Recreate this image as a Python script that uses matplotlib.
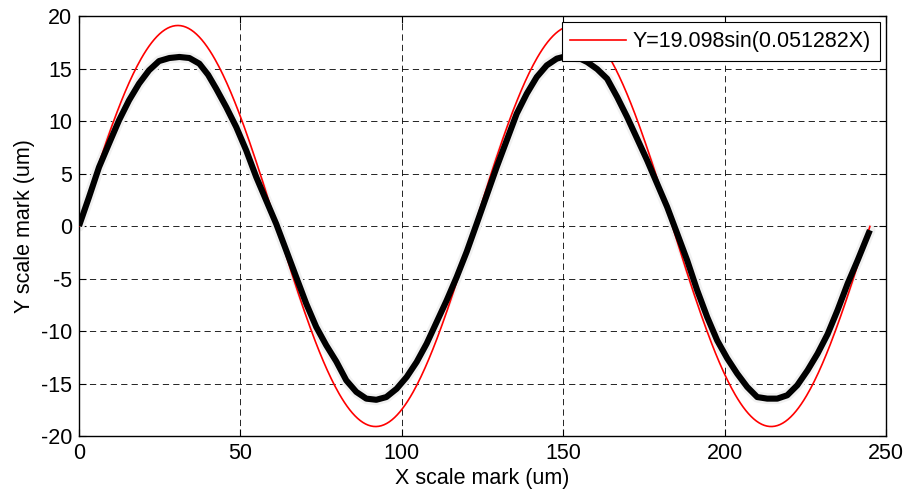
import numpy as np
import matplotlib
matplotlib.use("Agg")
import matplotlib.pyplot as plt

# ---- data ----
# Fitted curve shown in the legend: Y = 19.098 sin(0.051282 X), X in [0, 245]
fit_amplitude = 19.098
fit_frequency = 0.051282
fit_x_range = [0.0, 245.0]
fit_label = "Y=19.098sin(0.051282X)"

meas_x = [0.0, 3.1, 6.2, 9.3, 12.4, 15.5, 18.6, 21.7, 24.8, 28.0, 31.1, 34.2, 37.3,
          40.0, 42.5, 45.6, 48.7, 51.8, 54.9, 58.0, 61.1, 64.2, 67.3, 70.4, 73.5,
          76.6, 79.7, 82.8, 85.9, 89.0, 92.1, 95.2, 98.4, 101.5, 104.6, 107.7,
          110.8, 113.9, 117.0, 120.1, 123.2, 126.3, 129.4, 132.5, 135.6, 138.7,
          141.8, 144.9, 148.0, 151.1, 154.2, 157.4, 160.5, 163.6, 166.7, 169.8,
          172.9, 176.0, 179.1, 182.2, 185.3, 188.4, 191.5, 194.6, 197.7, 200.8,
          203.9, 207.0, 210.1, 213.2, 216.3, 219.4, 222.5, 225.7, 228.8, 231.9,
          235.0, 238.1, 241.2, 245.0]
meas_y = [0.0, 2.75, 5.6, 7.85, 10.07, 11.97, 13.56, 14.83, 15.71, 16.0, 16.1, 16.0,
          15.46, 14.4, 13.08, 11.33, 9.43, 7.2, 4.67, 2.43, 0.2, -2.33, -4.87, -7.4,
          -9.62, -11.36, -12.9, -14.7, -15.8, -16.44, -16.55, -16.29, -15.5, -14.38,
          -12.95, -11.2, -9.14, -7.08, -4.86, -2.45, 0.22, 2.92, 5.62, 8.16, 10.7,
          12.6, 14.19, 15.3, 15.94, 16.19, 16.1, 15.62, 14.95, 14.03, 12.29, 10.38,
          8.32, 6.25, 4.03, 1.81, -0.72, -3.27, -6.12, -8.67, -10.9, -12.6, -14.06,
          -15.33, -16.29, -16.44, -16.44, -16.12, -15.17, -13.74, -12.15, -10.3,
          -8.0, -5.49, -3.27, -0.4]

x_ticks = [0, 50, 100, 150, 200, 250]
y_ticks = [-20, -15, -10, -5, 0, 5, 10, 15, 20]
x_label = "X scale mark (um)"
y_label = "Y scale mark (um)"

# ---- figure ----
FS = 15.5
plt.rcParams["font.family"] = ["Liberation Sans", "DejaVu Sans"]
plt.rcParams["font.size"] = FS
plt.rcParams["lines.scale_dashes"] = False

fig = plt.figure(figsize=(9.08, 4.93), dpi=100)
ax = fig.add_axes([0.087, 0.1156, 0.9758 - 0.087, 0.9675 - 0.1156])

fit_x = np.linspace(fit_x_range[0], fit_x_range[1], 600)
fit_y = fit_amplitude * np.sin(fit_frequency * fit_x)

# faint halo of scattered measurement points
ax.plot(meas_x, meas_y, color="#f1f1f1", lw=8, solid_capstyle="round", zorder=2)
ax.plot(fit_x, fit_y, color="red", lw=1.2, label=fit_label, zorder=3)
ax.plot(meas_x, meas_y, color="black", lw=4.4, solid_capstyle="butt",
        solid_joinstyle="round", zorder=4)

ax.set_xlim(0, 250)
ax.set_ylim(-20, 20)
ax.set_xticks(x_ticks)
ax.set_yticks(y_ticks)
ax.set_xticklabels([str(t) for t in x_ticks])
ax.set_yticklabels([str(t) for t in y_ticks])
ax.tick_params(direction="in", length=5, width=0.8, top=True, right=True,
               labelsize=FS, pad=5)
ax.grid(True, color="black", lw=0.6, linestyle=(0, (4.5, 3.0)))
ax.set_axisbelow(True)
for s in ax.spines.values():
    s.set_linewidth(1.0)

ax.set_xlabel(x_label, fontsize=FS, labelpad=3)
ax.set_ylabel(y_label, fontsize=FS, labelpad=4)

leg = ax.legend(loc="upper right", fontsize=FS, fancybox=False, framealpha=1,
                edgecolor="black", borderaxespad=0.3, handlelength=2.6,
                handletextpad=0.3, borderpad=0.4)
leg.get_frame().set_linewidth(0.8)
leg.set_zorder(10)

fig.savefig("out.png", dpi=100)
